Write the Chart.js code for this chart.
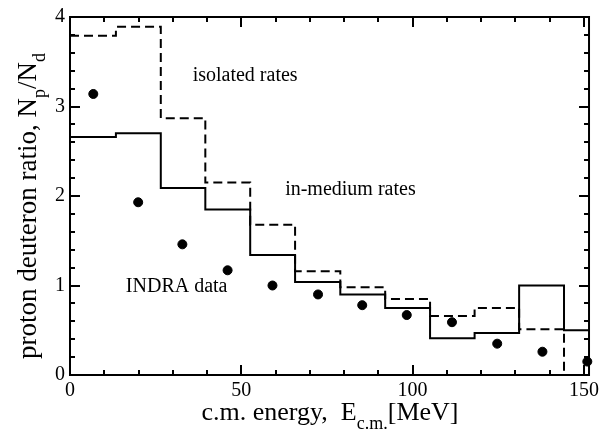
<!DOCTYPE html>
<html>
<head>
<meta charset="utf-8">
<script src="https://cdn.jsdelivr.net/npm/chart.js@4"></script>
<style>
  body { margin: 0; background: #fff; font-family: "Liberation Serif", "Times New Roman", serif; }
</style>
</head>
<body>
<canvas id="ratio-chart" width="603" height="436"></canvas>
<script>
// histogram bin left edges (MeV) and the two model curves
const binEdges = [0, 13.4, 26.5, 39.5, 52.6, 65.7, 78.9, 92.0, 105.1, 118.1, 131.1, 144.2];
const inMediumRates = [2.66, 2.70, 2.09, 1.85, 1.34, 1.04, 0.90, 0.75, 0.41, 0.47, 1.00, 0.50];
const isolatedRates = [3.79, 3.89, 2.87, 2.15, 1.68, 1.16, 0.98, 0.85, 0.66, 0.75, 0.51, 0];

// INDRA measurement
const indraEnergy = [6.8, 19.9, 32.8, 46.0, 59.1, 72.4, 85.3, 98.3, 111.5, 124.7, 137.9, 151.0];
const indraRatio = [3.14, 1.93, 1.46, 1.17, 1.00, 0.90, 0.78, 0.67, 0.59, 0.35, 0.26, 0.15];

// axes
const xMin = 0, xMax = 151.5;
const yMin = 0, yMax = 4;
const xTickValues = [0, 50, 100, 150];
const yTickValues = [0, 1, 2, 3, 4];

// text labels inside the plot (data coords of left end / baseline)
const annotations = [
    { text: 'isolated rates', x: 35.8, y: 3.28 },
    { text: 'in-medium rates', x: 62.8, y: 2.01 },
    { text: 'INDRA data', x: 16.3, y: 0.93 }
];

const serif = 'Liberation Serif, Times New Roman, Times, serif';

// Turn bin heights into stepped line points, closing at the right edge
function stepPoints(values) {
    const pts = binEdges.map((x, i) => ({ x: x, y: values[i] }));
    pts.push({ x: xMax, y: values[values.length - 1] });
    return pts;
}

// draws text with subscripts, parts = [[text, isSub], ...]
function richWidth(ctx, parts, size) {
    let w = 0;
    parts.forEach(([t, sub]) => {
        ctx.font = (sub ? Math.round(size * 0.68) : size) + 'px ' + serif;
        w += ctx.measureText(t).width;
    });
    return w;
}
function drawRich(ctx, parts, x, y, size) {
    let cx = x;
    parts.forEach(([t, sub]) => {
        ctx.font = (sub ? Math.round(size * 0.68) : size) + 'px ' + serif;
        ctx.fillText(t, cx, sub ? y + 9 : y);
        cx += ctx.measureText(t).width;
    });
}

const framePlugin = {
    id: 'frame',
    afterDraw(chart) {
        const ctx = chart.ctx;
        const a = chart.chartArea;
        const xs = chart.scales.x, ys = chart.scales.y;
        ctx.save();
        ctx.strokeStyle = '#000';
        ctx.lineWidth = 2;
        ctx.strokeRect(a.left, a.top, a.right - a.left, a.bottom - a.top);

        // inward ticks on all four sides
        ctx.beginPath();
        for (let v = 0; v <= xMax; v += 10) {
            const px = Math.round(xs.getPixelForValue(v));
            const len = v % 50 === 0 ? 10 : 5;
            ctx.moveTo(px, a.bottom); ctx.lineTo(px, a.bottom - len);
            ctx.moveTo(px, a.top); ctx.lineTo(px, a.top + len);
        }
        for (let i = 0; i <= 20; i++) {
            const v = i * 0.2;
            const py = Math.round(ys.getPixelForValue(v));
            const len = i % 5 === 0 ? 10 : 5;
            ctx.moveTo(a.left, py); ctx.lineTo(a.left + len, py);
            ctx.moveTo(a.right, py); ctx.lineTo(a.right - len, py);
        }
        ctx.stroke();

        ctx.fillStyle = '#000';
        ctx.textBaseline = 'alphabetic';
        ctx.textAlign = 'left';

        // annotations
        ctx.font = '20px ' + serif;
        annotations.forEach(n => {
            ctx.fillText(n.text, xs.getPixelForValue(n.x), ys.getPixelForValue(n.y));
        });

        // x title
        const xParts = [['c.m. energy,  E', false], ['c.m.', true], ['[MeV]', false]];
        const xw = richWidth(ctx, xParts, 26);
        drawRich(ctx, xParts, 330 - xw / 2, 420, 26);

        // y title
        const yParts = [['proton deuteron ratio, N', false], ['p', true], ['/N', false], ['d', true]];
        const yw = richWidth(ctx, yParts, 27);
        ctx.translate(36, 206);
        ctx.rotate(-Math.PI / 2);
        drawRich(ctx, yParts, -yw / 2, 0, 27);
        ctx.restore();
    }
};

const ctx = document.getElementById('ratio-chart').getContext('2d');
const chartInstance = new Chart(ctx, {
    data: {
        datasets: [
            {
                type: 'line',
                label: 'in-medium rates',
                data: stepPoints(inMediumRates),
                stepped: 'before',
                borderColor: '#000',
                borderWidth: 2,
                pointRadius: 0,
                fill: false
            },
            {
                type: 'line',
                label: 'isolated rates',
                data: stepPoints(isolatedRates),
                stepped: 'before',
                borderColor: '#000',
                borderWidth: 2,
                borderDash: [9, 5],
                pointRadius: 0,
                fill: false
            },
            {
                type: 'scatter',
                label: 'INDRA data',
                data: indraEnergy.map((x, i) => ({ x: x, y: indraRatio[i] })),
                backgroundColor: '#000',
                borderColor: '#000',
                pointRadius: 4.5,
                pointHoverRadius: 4.5,
                clip: false
            }
        ]
    },
    options: {
        responsive: false,
        devicePixelRatio: 1,
        animation: false,
        events: [],
        layout: { padding: { top: 11, right: 12, left: 0, bottom: 0 } },
        plugins: {
            legend: { display: false },
            tooltip: { enabled: false }
        },
        scales: {
            x: {
                type: 'linear',
                min: xMin,
                max: xMax,
                afterBuildTicks: s => { s.ticks = xTickValues.map(v => ({ value: v })); },
                afterFit: s => { s.height = 61; },
                grid: { display: false, drawTicks: false },
                border: { display: false },
                ticks: {
                    color: '#000',
                    padding: 4,
                    maxRotation: 0,
                    font: { family: serif, size: 20 }
                }
            },
            y: {
                type: 'linear',
                min: yMin,
                max: yMax,
                afterBuildTicks: s => { s.ticks = yTickValues.map(v => ({ value: v })); },
                afterFit: s => { s.width = 70; },
                grid: { display: false, drawTicks: false },
                border: { display: false },
                ticks: {
                    color: '#000',
                    padding: 5,
                    font: { family: serif, size: 20 }
                }
            }
        }
    },
    plugins: [framePlugin]
});
</script>
</body>
</html>
